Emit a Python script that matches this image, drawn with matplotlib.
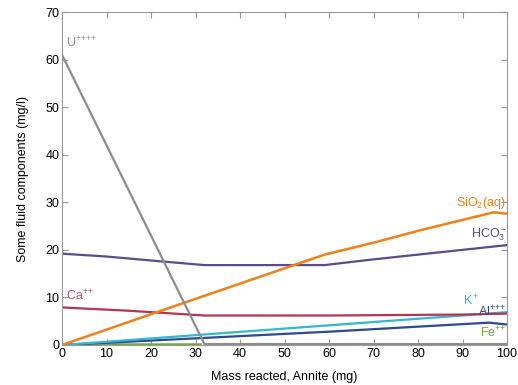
import matplotlib
matplotlib.use("Agg")
import matplotlib.pyplot as plt

plt.rcParams["font.family"] = ["Liberation Sans", "DejaVu Sans"]
plt.rcParams["mathtext.fontset"] = "custom"
plt.rcParams["mathtext.rm"] = "Liberation Sans"
plt.rcParams["mathtext.it"] = "Liberation Sans"
plt.rcParams["mathtext.default"] = "rm"

# mass reacted (mg) and fluid components (mg/l)
u_x = [0, 32, 100]
u_y = [61.0, 0.2, 0.2]

hco3_x = [0, 10, 22, 32, 45, 59, 70, 80, 90, 100]
hco3_y = [19.2, 18.6, 17.6, 16.8, 16.8, 16.8, 18.0, 19.0, 20.0, 21.0]

sio2_x = [0, 30, 59, 70, 80, 90, 97, 100]
sio2_y = [0.0, 9.7, 19.0, 21.5, 24.0, 26.3, 27.9, 27.6]

ca_x = [0, 15, 32, 60, 90, 100]
ca_y = [7.9, 7.2, 6.2, 6.2, 6.4, 6.6]

k_x = [0, 100]
k_y = [0.0, 6.9]

al_x = [0, 30, 60, 96, 100]
al_y = [0.0, 1.4, 2.8, 4.7, 4.3]

fe_x = [0, 31]
fe_y = [0.15, 0.15]

fig = plt.figure(figsize=(5.18, 3.85), dpi=100)
ax = fig.add_axes([0.1197, 0.1039, 0.8591, 0.8649])

ax.plot(fe_x, fe_y, color="#7aa63a", lw=1.8)
ax.plot(al_x, al_y, color="#2c4a8c", lw=1.6)
ax.plot(k_x, k_y, color="#35b6d2", lw=1.6)
ax.plot(ca_x, ca_y, color="#b23552", lw=1.6)
ax.plot(hco3_x, hco3_y, color="#5b4b8e", lw=1.6)
ax.plot(sio2_x, sio2_y, color="#f08018", lw=1.8)
ax.plot(u_x, u_y, color="#8c8c8c", lw=1.6)

ax.text(0.8, 62.5, "U$^{{+}{+}{+}{+}}$", color="#8c8c8c", fontsize=9)
ax.text(0.8, 9.3, "Ca$^{{+}{+}}$", color="#c0506a", fontsize=9)
ax.text(88.5, 29.3, "SiO$_2$(aq)", color="#f08018", fontsize=9)
ax.text(92, 22.6, "HCO$_3^-$", color="#5b4b8e", fontsize=9)
ax.text(90, 8.3, "K$^+$", color="#35b6d2", fontsize=9)
ax.text(93.5, 6.0, "Al$^{{+}{+}{+}}$", color="#2c4a8c", fontsize=9)
ax.text(94, 1.6, "Fe$^{{+}{+}}$", color="#7aa63a", fontsize=9)

ax.set_xlim(0, 100)
ax.set_ylim(0, 70)
ax.set_xticks(range(0, 101, 10))
ax.set_yticks(range(0, 71, 10))
ax.tick_params(direction="in", length=4, color="#999999", labelsize=9,
               top=True, right=True, pad=2)
for s in ax.spines.values():
    s.set_color("#999999")

ax.set_xlabel("Mass reacted, Annite (mg)", fontsize=9, labelpad=8)
ax.set_ylabel("Some fluid components (mg/l)", fontsize=9, labelpad=12)

fig.savefig("out.png", dpi=100)
